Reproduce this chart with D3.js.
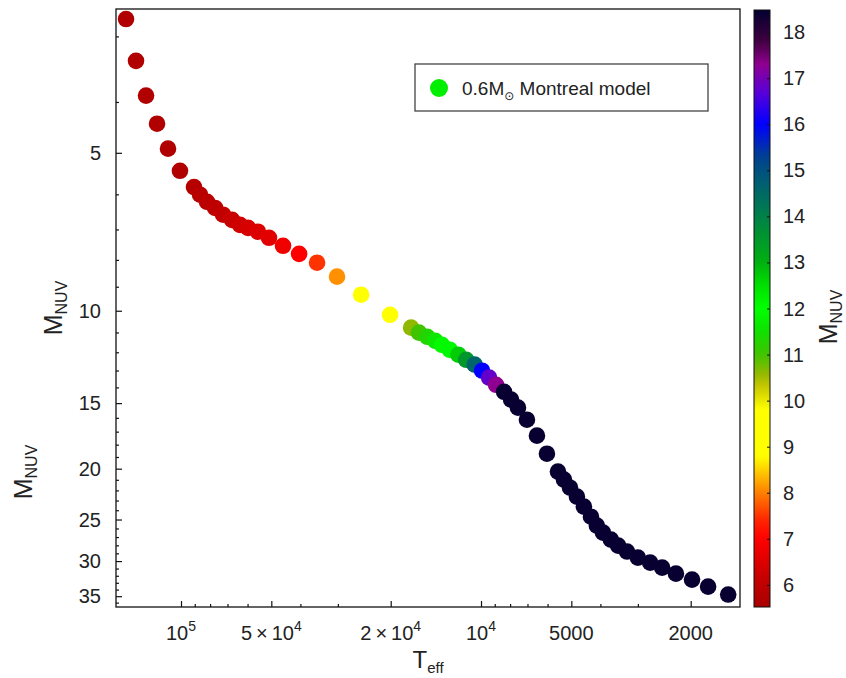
<!DOCTYPE html>
<html>
<head>
<meta charset="utf-8">
<script src="https://cdn.jsdelivr.net/npm/d3@7/dist/d3.min.js"></script>
<style>
body{margin:0;background:#fff;}
text{font-family:"Liberation Sans",Arial,sans-serif;fill:#222;}
</style>
</head>
<body>
<svg width="846" height="678"></svg>
<script>
// cooling track
var teff = [152500,141250,130800,120200,110500,100800,90500,86400,81900,77000,
            72400,67600,63600,59800,55400,50900,45700,40400,35200,30200,
            25100,20100,17100,16100,15100,14200,13500,12700,11900,11200,
            10500,9920,9400,8910,8380,7940,7530,7030,6510,6030,
            5540,5290,5050,4790,4540,4300,4110,3920,3690,3490,
            3260,3000,2730,2490,2240,1980,1750,1500];
var mnuv = [2.78,3.34,3.89,4.40,4.91,5.41,5.81,6.01,6.20,6.37,
            6.56,6.71,6.86,6.95,7.07,7.26,7.52,7.79,8.10,8.61,
            9.32,10.18,10.77,11.01,11.21,11.41,11.61,11.87,12.13,12.40,
            12.67,13.01,13.41,13.84,14.27,14.77,15.30,16.13,17.30,18.73,
            20.26,20.98,21.74,22.61,23.62,24.69,25.68,26.48,27.31,28.04,
            28.77,29.55,30.20,30.87,31.70,32.54,33.56,34.75];
var colorVal = [5.7,5.7,5.7,5.7,5.7,5.7,5.8,5.85,5.9,6.0,
                6.1,6.2,6.3,6.4,6.5,6.6,6.8,7.0,7.5,8.1,
                9.0,9.3,10.6,11.0,11.3,11.6,11.9,12.1,12.7,13.5,
                14.6,16.0,16.8,17.3,18.4,18.4,18.4,18.4,18.4,18.4,
                18.4,18.4,18.4,18.4,18.4,18.4,18.4,18.4,18.4,18.4,
                18.4,18.4,18.4,18.4,18.4,18.4,18.4,18.4];

var xTicks = [1e5,5e4,2e4,1e4,5000,2000];
var xTickLabels = [["10","5"],["5\u2009\u00d7\u200910","4"],["2\u2009\u00d7\u200910","4"],["10","4"],["5000",""],["2000",""]];
var yTicks = [5,10,15,20,25,30,35];
var cbarTicks = [6,7,8,9,10,11,12,13,14,15,16,17,18];

// colour map of the bar
var cmapVals = [5.5,6.2,7,7.4,8,8.6,8.8,9.8,10.3,10.6,11,11.5,12,12.5,13,14,14.7,15.3,16,16.7,17.3,17.8,18.5];
var cmapCols = ["#a80000","#c80000","#ff0000","#ff2400","#ff8000","#ffe000","#ffff00","#ffff00","#c8c800","#90b800","#40c400","#10e000","#00ff00","#00e000","#00b010","#008048","#006070","#004090","#0000ff","#5a00d8","#900090","#400040","#000030"];

var svg = d3.select('svg');
var pLeft = 116, pTop = 9, pRight = 740, pBottom = 607;

var x = d3.scaleLog().domain([164700,1370]).range([pLeft,pRight]);
var y = d3.scaleLog().domain([2.66,36.7]).range([pTop,pBottom]);
var color = d3.scaleLinear().domain(cmapVals).range(cmapCols).clamp(true);
var cb = d3.scaleLinear().domain([5.52,18.48]).range([607,10]);

// minor ticks
var xMinor = [];
[1000,10000,100000].forEach(function(dec){
    for(var k=1;k<10;k++){
        var v = k*dec;
        if(v>1370 && v<164700 && xTicks.indexOf(v)<0) xMinor.push(v);
    }
});
var yMinor = d3.range(3,37).filter(function(v){ return yTicks.indexOf(v)<0; });

svg.append('g')
    .attr('transform','translate(0,'+pBottom+')')
    .call(d3.axisBottom(x).tickValues(xMinor).tickSizeInner(-3).tickSizeOuter(0).tickFormat(''));
svg.append('g')
    .attr('transform','translate(0,'+pBottom+')')
    .call(d3.axisBottom(x).tickValues(xTicks).tickSizeInner(-6).tickSizeOuter(0).tickFormat(''));
svg.append('g')
    .attr('transform','translate('+pLeft+',0)')
    .call(d3.axisLeft(y).tickValues(yMinor).tickSizeInner(-3).tickSizeOuter(0).tickFormat(''));
svg.append('g')
    .attr('transform','translate('+pLeft+',0)')
    .call(d3.axisLeft(y).tickValues(yTicks).tickSizeInner(-6).tickSizeOuter(0).tickFormat(''));
svg.selectAll('.domain').remove();
svg.selectAll('.tick line').attr('stroke','#111').attr('stroke-width',1.2);

// y tick labels
svg.selectAll('.ylab')
    .data(yTicks)
    .enter()
    .append('text')
    .attr('x',101)
    .attr('y',function(d){ return y(d)+7; })
    .attr('text-anchor','end')
    .attr('font-size',20)
    .text(function(d){ return d; });

// x tick labels with superscripts
xTicks.forEach(function(v,i){
    var t = svg.append('text')
        .attr('x',x(v))
        .attr('y',640)
        .attr('text-anchor','middle')
        .attr('font-size',20);
    t.append('tspan').text(xTickLabels[i][0]);
    if(xTickLabels[i][1]!=''){
        t.append('tspan').attr('font-size',14).attr('dy',-9).text(xTickLabels[i][1]);
    }
});

// frame
svg.append('rect')
    .attr('x',pLeft).attr('y',pTop)
    .attr('width',pRight-pLeft).attr('height',pBottom-pTop)
    .attr('fill','none').attr('stroke','#111').attr('stroke-width',1.3);

// points
svg.selectAll('.dataPoints')
    .data(teff)
    .enter()
    .append('circle')
    .attr('class','dataPoints')
    .attr('cx',function(d){ return x(d); })
    .attr('cy',function(d,i){ return y(mnuv[i]); })
    .attr('r',8.3)
    .attr('fill',function(d,i){ return color(colorVal[i]); });

// legend
svg.append('rect')
    .attr('x',415).attr('y',64).attr('width',293).attr('height',47)
    .attr('fill','#fff').attr('stroke','#444').attr('stroke-width',1.3);
svg.append('circle')
    .attr('cx',439).attr('cy',88).attr('r',9).attr('fill','#00ee00');
var lg = svg.append('text').attr('x',462).attr('y',95).attr('font-size',19);
lg.append('tspan').text('0.6M');
lg.append('tspan').attr('font-size',12).attr('dy',5).attr('font-family','DejaVu Sans').text('\u2299');
lg.append('tspan').attr('dy',-5).text(' Montreal model');

// axis titles
function subLabel(g, main, sub, size, subSize){
    var t = g.append('text').attr('text-anchor','middle').attr('font-size',size);
    t.append('tspan').text(main);
    t.append('tspan').attr('font-size',subSize).attr('dy',5).text(sub);
    return t;
}
subLabel(svg.append('g').attr('transform','translate(62,308)rotate(-90)'),'M','NUV',25,16);
subLabel(svg.append('g').attr('transform','translate(32,472)rotate(-90)'),'M','NUV',25,16);
subLabel(svg.append('g').attr('transform','translate(837,317)rotate(-90)'),'M','NUV',25,16);
subLabel(svg.append('g').attr('transform','translate(428,668)'),'T','eff',24,15);

// colour bar
var grad = svg.append('defs').append('linearGradient')
    .attr('id','cbar').attr('x1',0).attr('y1',1).attr('x2',0).attr('y2',0);
d3.range(0,101).forEach(function(i){
    var v = 5.52 + (18.48-5.52)*i/100;
    grad.append('stop').attr('offset',i+'%').attr('stop-color',color(v));
});
svg.append('rect')
    .attr('x',754).attr('y',10).attr('width',16).attr('height',597)
    .attr('fill','url(#cbar)').attr('stroke','#111').attr('stroke-width',1);

svg.append('g')
    .attr('transform','translate(770,0)')
    .call(d3.axisLeft(cb).tickValues(cbarTicks).tickSizeInner(3).tickSizeOuter(0).tickFormat(''))
    .select('.domain').remove();
svg.selectAll('.tick line').attr('stroke','#111');

svg.selectAll('.cblab')
    .data(cbarTicks)
    .enter()
    .append('text')
    .attr('x',783)
    .attr('y',function(d){ return cb(d)+7; })
    .attr('font-size',20)
    .text(function(d){ return d; });
</script>
</body>
</html>
